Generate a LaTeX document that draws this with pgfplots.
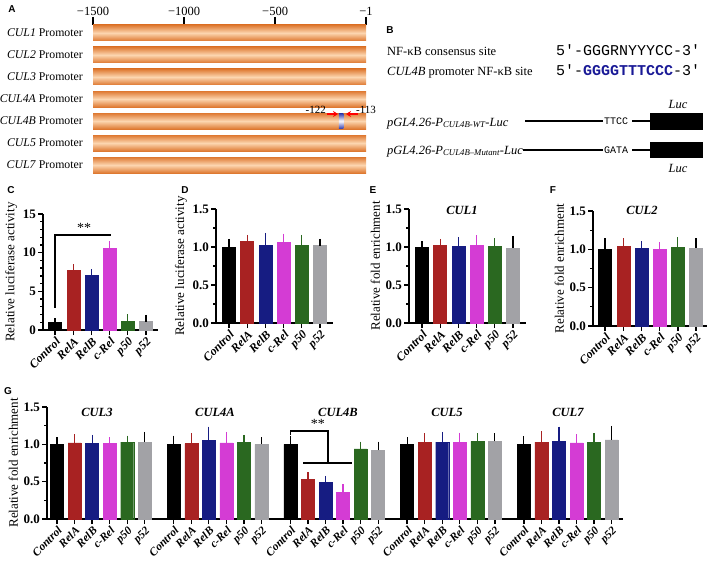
\documentclass[border=0pt]{standalone}
\usepackage{pgfplots}
\pgfplotsset{compat=1.18}
\usetikzlibrary{arrows.meta}
\usepackage{fontspec}
\setmainfont{Liberation Serif}
\setmonofont{Liberation Mono}
\newfontfamily\sansf{Liberation Sans}
\definecolor{cRelA}{RGB}{168,34,34}
\definecolor{cRelB}{RGB}{22,28,130}
\definecolor{cRel}{RGB}{212,60,212}
\definecolor{cp50}{RGB}{42,104,32}
\definecolor{cp52}{RGB}{162,162,166}
\definecolor{orEdge}{RGB}{222,120,48}
\definecolor{orMid}{RGB}{252,214,176}
\definecolor{siteblue}{RGB}{40,50,170}
\definecolor{seqblue}{RGB}{25,25,150}
\pgfplotsset{
  gpbar/.style 2 args={ybar, bar width=13pt, bar shift=0pt, fill=#1, draw=#1,
    /pgfplots/error bars/y dir=plus, /pgfplots/error bars/y explicit,
    /pgfplots/error bars/error bar style={draw=#2, line width=1.2pt},
    /pgfplots/error bars/error mark options={draw=#2, line width=1.2pt, mark size=3.5pt}},
  gpaxis/.style={scale only axis, anchor=south west, clip=false,
    axis x line*=bottom, axis y line*=left,
    axis line style={line width=1.5pt, -},
    tick style={line width=1.3pt, black}, tick align=outside,
    major tick length=5pt, minor tick length=3pt,
    ymin=0,
    xticklabel style={rotate=45, anchor=north east, inner sep=1pt, font=\bfseries\itshape\fontsize{12}{12}\selectfont},
    yticklabel style={font=\bfseries\fontsize{13}{13}\selectfont, inner sep=2pt},
    /pgf/number format/assume math mode=true,
    ylabel style={font=\fontsize{13}{14}\selectfont},
    xtick={0,...,5}, xticklabels={Control,RelA,RelB,c-Rel,p50,p52},
    xmin=-0.66, xmax=5.66,
  },
  enrich/.style={ymax=1.5, ytick={0,0.5,1,1.5}, minor y tick num=1,
    yticklabel style={/pgf/number format/fixed, /pgf/number format/fixed zerofill, /pgf/number format/precision=1}},
  prombar/.style={xbar, bar width=16pt, bar shift=0pt, draw=none, top color=orEdge, bottom color=orEdge, middle color=orMid},
}
\begin{document}
\begin{tikzpicture}
\path[use as bounding box] (0pt,0pt) rectangle (709pt,-563pt);

% ---------- Panel A ----------
\begin{axis}[at={(93pt,-173pt)}, anchor=south west, scale only axis, width=273pt, height=148pt,
  xmin=0, xmax=1499, ymin=-0.36, ymax=6.36, clip=false,
  axis line style={draw=none},
  xtick={0,500,1000,1499}, xticklabels={−1500,−1000,−500,−1},
  xtick pos=top, xticklabel pos=top, tick align=outside, major tick length=8pt,
  xtick style={line width=1.6pt, black}, ytick style={draw=none},
  ytick={0,...,6},
  yticklabels={\textit{CUL7} Promoter,\textit{CUL5} Promoter,\textit{CUL4B} Promoter,\textit{CUL4A} Promoter,\textit{CUL3} Promoter,\textit{CUL2} Promoter,\textit{CUL1} Promoter},
  yticklabel style={font=\fontsize{11.8}{13}\selectfont, inner sep=2pt},
  xticklabel style={font=\fontsize{12.5}{13}\selectfont, inner sep=1pt},
]
\addplot[prombar] coordinates {(1499,0)};
\addplot[prombar] coordinates {(1499,1)};
\addplot[prombar] coordinates {(1499,2)};
\addplot[prombar] coordinates {(1499,3)};
\addplot[prombar] coordinates {(1499,4)};
\addplot[prombar] coordinates {(1499,5)};
\addplot[prombar] coordinates {(1499,6)};
\shade[top color=siteblue, bottom color=siteblue, middle color=white] (axis cs:1350,1.64) rectangle (axis cs:1375,2.36);
\end{axis}

% ---------- Panel C ----------
\begin{axis}[gpaxis, at={(43pt,-330pt)}, width=115pt, height=116pt,
  ymax=15, ytick={0,5,10,15}, minor y tick num=4,
  ylabel={Relative luciferase activity}]
\addplot[gpbar={black}{black}] coordinates {(0,0.97) +- (0,0.11)};
\addplot[gpbar={cRelA}{cRelA}] coordinates {(1,7.67) +- (0,0.4)};
\addplot[gpbar={cRelB}{cRelB}] coordinates {(2,7.03) +- (0,0.37)};
\addplot[gpbar={cRel}{cRel}] coordinates {(3,10.56) +- (0,0.44)};
\addplot[gpbar={cp50}{cp50}] coordinates {(4,1.2) +- (0,0.4)};
\addplot[gpbar={cp52}{black}] coordinates {(5,1.2) +- (0,0.3)};
\draw[line width=1.3pt] (axis cs:0,2.9) -- (axis cs:0,12.3) -- (axis cs:3.1,12.3);
\node[font=\fontsize{14}{14}\selectfont] at (axis cs:1.6,13.2) {**};
\end{axis}

% ---------- Panel D ----------
\begin{axis}[gpaxis, enrich, at={(216pt,-323pt)}, width=117pt, height=114pt,
  xmin=-0.71, xmax=5.71, ylabel={Relative luciferase activity}]
\addplot[gpbar={black}{black}] coordinates {(0,1.0) +- (0,0.06)};
\addplot[gpbar={cRelA}{cRelA}] coordinates {(1,1.07) +- (0,0.045)};
\addplot[gpbar={cRelB}{cRelB}] coordinates {(2,1.03) +- (0,0.11)};
\addplot[gpbar={cRel}{cRel}] coordinates {(3,1.06) +- (0,0.07)};
\addplot[gpbar={cp50}{cp50}] coordinates {(4,1.03) +- (0,0.085)};
\addplot[gpbar={cp52}{black}] coordinates {(5,1.03) +- (0,0.03)};
\end{axis}

% ---------- Panel E ----------
\begin{axis}[gpaxis, enrich, at={(409pt,-323pt)}, width=117pt, height=114pt,
  xmin=-0.71, xmax=5.71, ylabel={Relative fold enrichment}]
\addplot[gpbar={black}{black}] coordinates {(0,1.0) +- (0,0.03)};
\addplot[gpbar={cRelA}{cRelA}] coordinates {(1,1.02) +- (0,0.04)};
\addplot[gpbar={cRelB}{cRelB}] coordinates {(2,1.01) +- (0,0.07)};
\addplot[gpbar={cRel}{cRel}] coordinates {(3,1.03) +- (0,0.08)};
\addplot[gpbar={cp50}{cp50}] coordinates {(4,1.01) +- (0,0.06)};
\addplot[gpbar={cp52}{black}] coordinates {(5,0.99) +- (0,0.11)};
\end{axis}

% ---------- Panel F ----------
\begin{axis}[gpaxis, enrich, at={(593pt,-326pt)}, width=114pt, height=115pt,
  xmin=-0.66, xmax=5.6, ylabel={Relative fold enrichment}]
\addplot[gpbar={black}{black}] coordinates {(0,1.0) +- (0,0.1)};
\addplot[gpbar={cRelA}{cRelA}] coordinates {(1,1.04) +- (0,0.06)};
\addplot[gpbar={cRelB}{cRelB}] coordinates {(2,1.02) +- (0,0.04)};
\addplot[gpbar={cRel}{cRel}] coordinates {(3,1.0) +- (0,0.045)};
\addplot[gpbar={cp50}{cp50}] coordinates {(4,1.03) +- (0,0.08)};
\addplot[gpbar={cp52}{black}] coordinates {(5,1.02) +- (0,0.08)};
\end{axis}

% ---------- Panel G ----------
\begin{axis}[gpaxis, enrich, at={(47pt,-519pt)}, width=576pt, height=112pt,
  xmin=-0.57, xmax=32.25, ylabel={Relative fold enrichment},
  xticklabel style={font=\bfseries\itshape\fontsize{11.5}{12}\selectfont},
  xtick={0,1,2,3,4,5, 6.65,7.65,8.65,9.65,10.65,11.65, 13.3,14.3,15.3,16.3,17.3,18.3, 19.95,20.95,21.95,22.95,23.95,24.95, 26.6,27.6,28.6,29.6,30.6,31.6},
  xticklabels={Control,RelA,RelB,c-Rel,p50,p52,Control,RelA,RelB,c-Rel,p50,p52,Control,RelA,RelB,c-Rel,p50,p52,Control,RelA,RelB,c-Rel,p50,p52,Control,RelA,RelB,c-Rel,p50,p52}]
\addplot[gpbar={black}{black}] coordinates {(0,1.0) +- (0,0.045) (6.65,1.0) +- (0,0.07) (13.3,1.0) +- (0,0.07) (19.95,1.0) +- (0,0.05) (26.6,1.0) +- (0,0.06)};
\addplot[gpbar={cRelA}{cRelA}] coordinates {(1,1.02) +- (0,0.07) (7.65,1.01) +- (0,0.09) (14.3,0.53) +- (0,0.05) (20.95,1.03) +- (0,0.07) (27.6,1.03) +- (0,0.1)};
\addplot[gpbar={cRelB}{cRelB}] coordinates {(2,1.01) +- (0,0.07) (8.65,1.05) +- (0,0.14) (15.3,0.49) +- (0,0.04) (21.95,1.03) +- (0,0.09) (28.6,1.04) +- (0,0.15)};
\addplot[gpbar={cRel}{cRel}] coordinates {(3,1.01) +- (0,0.04) (9.65,1.02) +- (0,0.1) (16.3,0.36) +- (0,0.06) (22.95,1.03) +- (0,0.08) (29.6,1.02) +- (0,0.07)};
\addplot[gpbar={cp50}{cp50}] coordinates {(4,1.03) +- (0,0.04) (10.65,1.03) +- (0,0.05) (17.3,0.94) +- (0,0.05) (23.95,1.04) +- (0,0.06) (30.6,1.03) +- (0,0.07)};
\addplot[gpbar={cp52}{black}] coordinates {(5,1.03) +- (0,0.09) (11.65,1.0) +- (0,0.05) (18.3,0.92) +- (0,0.07) (24.95,1.04) +- (0,0.06) (31.6,1.06) +- (0,0.14)};
\draw[line width=1.3pt] (axis cs:13.3,1.12) -- (axis cs:13.3,1.18) -- (axis cs:15.44,1.18) -- (axis cs:15.44,0.75);
\draw[line width=1.3pt] (axis cs:14.02,0.75) -- (axis cs:16.8,0.75);
\node[font=\fontsize{14}{14}\selectfont] at (axis cs:14.87,1.28) {**};
\end{axis}

\begin{scope}[x=1pt,y=-1pt]
\draw[red, line width=1.3pt, -{Stealth[length=5pt,width=6pt]}] (327,114) -- (338,114);
\draw[red, line width=1.3pt, -{Stealth[length=5pt,width=6pt]}] (358,114) -- (346,114);
\node[anchor=east, inner sep=0, font=\fontsize{11}{11}\selectfont] at (326,110) {-122};
\node[anchor=west, inner sep=0, font=\fontsize{11}{11}\selectfont] at (356,110) {-113};
\node[font=\sansf\bfseries\fontsize{10}{10}\selectfont] at (12,9) {A};
% Panel B
\node[font=\sansf\bfseries\fontsize{10}{10}\selectfont] at (390,30) {B};
\node[anchor=base west, inner sep=0, font=\fontsize{12.5}{13}\selectfont] at (387,55) {NF-κB consensus site};
\node[anchor=base west, inner sep=0, font=\fontsize{12.5}{13}\selectfont] at (387,75) {\textit{CUL4B} promoter NF-κB site};
\node[anchor=base west, inner sep=0, font=\ttfamily\fontsize{15}{15}\selectfont] at (556,55) {5'-GGGRNYYYCC-3'};
\node[anchor=base west, inner sep=0, font=\ttfamily\fontsize{15}{15}\selectfont] at (556,75) {5'-\textcolor{seqblue}{\bfseries GGGGTTTCCC}-3'};
\node[anchor=base west, inner sep=0, font=\itshape\fontsize{12.5}{13}\selectfont] at (387,126) {pGL4.26-P\textsubscript{CUL4B-WT}-Luc};
\node[anchor=base west, inner sep=0, font=\itshape\fontsize{12.5}{13}\selectfont] at (387,154) {pGL4.26-P\textsubscript{CUL4B--Mutant}-Luc};
\draw[line width=1.5pt] (525,121) -- (603,121);
\node[anchor=west, inner sep=0, font=\ttfamily\fontsize{10}{10}\selectfont] at (604,121) {TTCC};
\draw[line width=1.5pt] (632,121) -- (650,121);
\fill[black] (650,113) rectangle (703,130);
\node[font=\itshape\fontsize{12.5}{13}\selectfont] at (678,104) {Luc};
\draw[line width=1.5pt] (523,150) -- (603,150);
\node[anchor=west, inner sep=0, font=\ttfamily\fontsize{10}{10}\selectfont] at (604,150) {GATA};
\draw[line width=1.5pt] (632,150) -- (650,150);
\fill[black] (650,142) rectangle (703,158);
\node[font=\itshape\fontsize{12.5}{13}\selectfont] at (678,168) {Luc};
% letters and titles
\node[font=\sansf\bfseries\fontsize{10}{10}\selectfont] at (11,190) {C};
\node[font=\sansf\bfseries\fontsize{10}{10}\selectfont] at (185,190) {D};
\node[font=\sansf\bfseries\fontsize{10}{10}\selectfont] at (373,190) {E};
\node[font=\sansf\bfseries\fontsize{10}{10}\selectfont] at (553,190) {F};
\node[font=\sansf\bfseries\fontsize{10}{10}\selectfont] at (8,391) {G};
\node[font=\bfseries\itshape\fontsize{12.5}{13}\selectfont] at (462,210) {CUL1};
\node[font=\bfseries\itshape\fontsize{12.5}{13}\selectfont] at (642,210) {CUL2};
\node[font=\bfseries\itshape\fontsize{12.5}{13}\selectfont] at (97,412) {CUL3};
\node[font=\bfseries\itshape\fontsize{12.5}{13}\selectfont] at (215,412) {CUL4A};
\node[font=\bfseries\itshape\fontsize{12.5}{13}\selectfont] at (338,412) {CUL4B};
\node[font=\bfseries\itshape\fontsize{12.5}{13}\selectfont] at (447,412) {CUL5};
\node[font=\bfseries\itshape\fontsize{12.5}{13}\selectfont] at (568,412) {CUL7};
\end{scope}
\end{tikzpicture}
\end{document}
